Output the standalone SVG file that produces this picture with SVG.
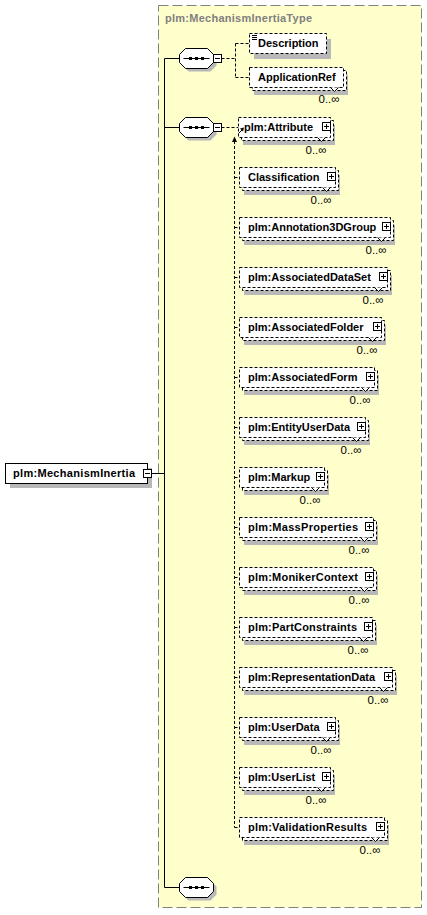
<svg xmlns="http://www.w3.org/2000/svg" xmlns:xlink="http://www.w3.org/1999/xlink" width="427" height="915" viewBox="0 0 427 915">
<style>
.t{font-family:"Liberation Sans",Arial,sans-serif;font-size:11px;font-weight:bold;fill:#000}
.ttl{font-family:"Liberation Sans",Arial,sans-serif;font-size:11px;font-weight:bold;fill:#808080}
.o{font-family:"Liberation Sans",Arial,sans-serif;font-size:11.5px;fill:#000;text-anchor:end}
.sh{fill:#b8b8b8}
.el{fill:#fff;stroke:#000;stroke-dasharray:3,2}
.box{fill:#fff;stroke:#000}
.ln{stroke:#000;fill:none}
.dl{stroke:#000;fill:none;stroke-dasharray:3,2}
.nt{fill:#fff;stroke:#000}
.type{fill:#ffffcc;stroke:#808080;stroke-dasharray:10,4}
</style>
<defs>
<g id="seq">
<polygon class="sh" points="9,3 31,3 37,9 37,17 31,23 9,23 3,17 3,9"/>
<polygon class="box" points="6,0 28,0 34,6 34,14 28,20 6,20 0,14 0,6"/>
<line class="ln" x1="4" y1="10" x2="30" y2="10"/>
<rect x="9.5" y="8.5" width="3" height="3"/>
<rect x="15.5" y="8.5" width="3" height="3"/>
<rect x="21.5" y="8.5" width="3" height="3"/>
</g>
<g id="minus">
<rect class="box" x="0" y="0" width="8" height="8"/>
<path class="ln" d="M1.5 4H6.5"/>
</g>
</defs>

<rect id="type-box" class="type" x="158.5" y="5.5" width="263" height="902"/>
<text class="ttl" x="165" y="22" textLength="147">plm:MechanismInertiaType</text>

<g id="connectors">
<path class="ln" d="M151.5 473.5H164.5M164.5 58.5V887.5M164.5 58.5H179.5M164.5 127.5H179.5M164.5 887.5H179.5"/>
<path class="dl" d="M221.5 58.5H235.5M235.5 43.5V77.5M235.5 43.5H249.5M235.5 77.5H249.5"/>
<path class="dl" d="M221.5 127.5H238.5M234.5 141V827.5M234.5 177.5H239.5M234.5 227.5H239.5M234.5 277.5H239.5M234.5 327.5H239.5M234.5 377.5H239.5M234.5 427.5H239.5M234.5 477.5H239.5M234.5 527.5H239.5M234.5 577.5H239.5M234.5 627.5H239.5M234.5 677.5H239.5M234.5 727.5H239.5M234.5 777.5H239.5M234.5 827.5H239.5"/>
<polygon points="234.5,136.5 232,142 237,142" fill="#000"/>
</g>

<g id="root">
<rect class="sh" x="10" y="468" width="142" height="20"/>
<rect class="box" x="5.5" y="463.5" width="142" height="20"/>
<text class="t" x="13" y="477" textLength="122">plm:MechanismInertia</text>
<use xlink:href="#minus" x="143.5" y="469.5"/>
</g>

<g id="seq1">
<use xlink:href="#seq" x="179.5" y="48.5"/>
<use xlink:href="#minus" x="213.5" y="54.5"/>
</g>
<g id="seq2">
<use xlink:href="#seq" x="179.5" y="117.5"/>
<use xlink:href="#minus" x="213.5" y="123.5"/>
</g>
<g id="seq3">
<use xlink:href="#seq" x="179.5" y="877.5"/>
</g>

<g id="el-description">
<rect class="sh" x="254" y="39" width="77" height="20"/>
<rect class="el" x="249.5" y="33.5" width="77" height="20"/>
<path class="ln" d="M252 35.5H257M252 37.5H257M252 39.5H257"/>
<text class="t" x="258" y="47">Description</text>
</g>

<g id="el-applicationref">
<rect class="sh" x="254" y="75" width="94" height="20"/>
<rect class="el" x="252.5" y="70.5" width="94" height="20"/>
<rect class="el" x="249.5" y="67.5" width="94" height="20"/>
<text class="t" x="258" y="81">ApplicationRef</text>
<path class="nt" d="M330.5 87.5L334.5 91.5L338.5 87.5"/>
<text class="o" x="339.5" y="103">0..∞</text>
</g>

<g id="el-attribute">
<rect class="sh" x="243" y="125" width="92" height="20"/>
<rect class="el" x="241.5" y="120.5" width="92" height="20"/>
<rect class="el" x="238.5" y="117.5" width="92" height="20"/>
<text class="t" x="244" y="131">plm:Attribute</text>
<rect class="box" x="322.5" y="122.5" width="8" height="8"/>
<path class="ln" d="M324 126.5H329M326.5 124V129"/>
<path class="nt" d="M317.5 137.5L321.5 141.5L325.5 137.5"/>
<path class="ln" d="M238.5 133.5L242.5 129.5"/>
<polygon points="244,127.5 240,128.5 243,131.5" fill="#000"/>
<text class="o" x="326.5" y="154">0..∞</text>
</g>

<g id="el-classification">
<rect class="sh" x="244" y="175" width="96" height="20"/>
<rect class="el" x="242.5" y="170.5" width="96" height="20"/>
<rect class="el" x="239.5" y="167.5" width="96" height="20"/>
<text class="t" x="248" y="181">Classification</text>
<rect class="box" x="327.5" y="172.5" width="8" height="8"/>
<path class="ln" d="M329 176.5H334M331.5 174V179"/>
<path class="nt" d="M322.5 187.5L326.5 191.5L330.5 187.5"/>
<text class="o" x="331.5" y="204">0..∞</text>
</g>

<g id="el-annotation3dgroup">
<rect class="sh" x="244" y="225" width="151" height="20"/>
<rect class="el" x="242.5" y="220.5" width="151" height="20"/>
<rect class="el" x="239.5" y="217.5" width="151" height="20"/>
<text class="t" x="248" y="231">plm:Annotation3DGroup</text>
<rect class="box" x="382.5" y="222.5" width="8" height="8"/>
<path class="ln" d="M384 226.5H389M386.5 224V229"/>
<path class="nt" d="M377.5 237.5L381.5 241.5L385.5 237.5"/>
<text class="o" x="386.5" y="254">0..∞</text>
</g>

<g id="el-associateddataset">
<rect class="sh" x="244" y="275" width="148" height="20"/>
<rect class="el" x="242.5" y="270.5" width="148" height="20"/>
<rect class="el" x="239.5" y="267.5" width="148" height="20"/>
<text class="t" x="248" y="281">plm:AssociatedDataSet</text>
<rect class="box" x="379.5" y="272.5" width="8" height="8"/>
<path class="ln" d="M381 276.5H386M383.5 274V279"/>
<path class="nt" d="M374.5 287.5L378.5 291.5L382.5 287.5"/>
<text class="o" x="383.5" y="304">0..∞</text>
</g>

<g id="el-associatedfolder">
<rect class="sh" x="244" y="325" width="142" height="20"/>
<rect class="el" x="242.5" y="320.5" width="142" height="20"/>
<rect class="el" x="239.5" y="317.5" width="142" height="20"/>
<text class="t" x="248" y="331">plm:AssociatedFolder</text>
<rect class="box" x="373.5" y="322.5" width="8" height="8"/>
<path class="ln" d="M375 326.5H380M377.5 324V329"/>
<path class="nt" d="M368.5 337.5L372.5 341.5L376.5 337.5"/>
<text class="o" x="377.5" y="354">0..∞</text>
</g>

<g id="el-associatedform">
<rect class="sh" x="244" y="375" width="135" height="20"/>
<rect class="el" x="242.5" y="370.5" width="135" height="20"/>
<rect class="el" x="239.5" y="367.5" width="135" height="20"/>
<text class="t" x="248" y="381">plm:AssociatedForm</text>
<rect class="box" x="366.5" y="372.5" width="8" height="8"/>
<path class="ln" d="M368 376.5H373M370.5 374V379"/>
<path class="nt" d="M361.5 387.5L365.5 391.5L369.5 387.5"/>
<text class="o" x="370.5" y="404">0..∞</text>
</g>

<g id="el-entityuserdata">
<rect class="sh" x="244" y="425" width="126" height="20"/>
<rect class="el" x="242.5" y="420.5" width="126" height="20"/>
<rect class="el" x="239.5" y="417.5" width="126" height="20"/>
<text class="t" x="248" y="431">plm:EntityUserData</text>
<rect class="box" x="357.5" y="422.5" width="8" height="8"/>
<path class="ln" d="M359 426.5H364M361.5 424V429"/>
<path class="nt" d="M352.5 437.5L356.5 441.5L360.5 437.5"/>
<text class="o" x="361.5" y="454">0..∞</text>
</g>

<g id="el-markup">
<rect class="sh" x="244" y="475" width="85" height="20"/>
<rect class="el" x="242.5" y="470.5" width="85" height="20"/>
<rect class="el" x="239.5" y="467.5" width="85" height="20"/>
<text class="t" x="248" y="481">plm:Markup</text>
<rect class="box" x="316.5" y="472.5" width="8" height="8"/>
<path class="ln" d="M318 476.5H323M320.5 474V479"/>
<path class="nt" d="M311.5 487.5L315.5 491.5L319.5 487.5"/>
<text class="o" x="320.5" y="504">0..∞</text>
</g>

<g id="el-massproperties">
<rect class="sh" x="244" y="525" width="134" height="20"/>
<rect class="el" x="242.5" y="520.5" width="134" height="20"/>
<rect class="el" x="239.5" y="517.5" width="134" height="20"/>
<text class="t" x="248" y="531" textLength="110">plm:MassProperties</text>
<rect class="box" x="365.5" y="522.5" width="8" height="8"/>
<path class="ln" d="M367 526.5H372M369.5 524V529"/>
<path class="nt" d="M360.5 537.5L364.5 541.5L368.5 537.5"/>
<text class="o" x="369.5" y="554">0..∞</text>
</g>

<g id="el-monikercontext">
<rect class="sh" x="244" y="575" width="134" height="20"/>
<rect class="el" x="242.5" y="570.5" width="134" height="20"/>
<rect class="el" x="239.5" y="567.5" width="134" height="20"/>
<text class="t" x="248" y="581" textLength="110">plm:MonikerContext</text>
<rect class="box" x="365.5" y="572.5" width="8" height="8"/>
<path class="ln" d="M367 576.5H372M369.5 574V579"/>
<path class="nt" d="M360.5 587.5L364.5 591.5L368.5 587.5"/>
<text class="o" x="369.5" y="604">0..∞</text>
</g>

<g id="el-partconstraints">
<rect class="sh" x="244" y="625" width="133" height="20"/>
<rect class="el" x="242.5" y="620.5" width="133" height="20"/>
<rect class="el" x="239.5" y="617.5" width="133" height="20"/>
<text class="t" x="248" y="631" textLength="109">plm:PartConstraints</text>
<rect class="box" x="364.5" y="622.5" width="8" height="8"/>
<path class="ln" d="M366 626.5H371M368.5 624V629"/>
<path class="nt" d="M359.5 637.5L363.5 641.5L367.5 637.5"/>
<text class="o" x="368.5" y="654">0..∞</text>
</g>

<g id="el-representationdata">
<rect class="sh" x="244" y="675" width="153" height="20"/>
<rect class="el" x="242.5" y="670.5" width="153" height="20"/>
<rect class="el" x="239.5" y="667.5" width="153" height="20"/>
<text class="t" x="248" y="681">plm:RepresentationData</text>
<rect class="box" x="384.5" y="672.5" width="8" height="8"/>
<path class="ln" d="M386 676.5H391M388.5 674V679"/>
<path class="nt" d="M379.5 687.5L383.5 691.5L387.5 687.5"/>
<text class="o" x="388.5" y="704">0..∞</text>
</g>

<g id="el-userdata">
<rect class="sh" x="244" y="725" width="96" height="20"/>
<rect class="el" x="242.5" y="720.5" width="96" height="20"/>
<rect class="el" x="239.5" y="717.5" width="96" height="20"/>
<text class="t" x="248" y="731">plm:UserData</text>
<rect class="box" x="327.5" y="722.5" width="8" height="8"/>
<path class="ln" d="M329 726.5H334M331.5 724V729"/>
<path class="nt" d="M322.5 737.5L326.5 741.5L330.5 737.5"/>
<text class="o" x="331.5" y="754">0..∞</text>
</g>

<g id="el-userlist">
<rect class="sh" x="244" y="775" width="91" height="20"/>
<rect class="el" x="242.5" y="770.5" width="91" height="20"/>
<rect class="el" x="239.5" y="767.5" width="91" height="20"/>
<text class="t" x="248" y="781">plm:UserList</text>
<rect class="box" x="322.5" y="772.5" width="8" height="8"/>
<path class="ln" d="M324 776.5H329M326.5 774V779"/>
<path class="nt" d="M317.5 787.5L321.5 791.5L325.5 787.5"/>
<text class="o" x="326.5" y="804">0..∞</text>
</g>

<g id="el-validationresults">
<rect class="sh" x="244" y="825" width="145" height="20"/>
<rect class="el" x="242.5" y="820.5" width="145" height="20"/>
<rect class="el" x="239.5" y="817.5" width="145" height="20"/>
<text class="t" x="248" y="831" textLength="119">plm:ValidationResults</text>
<rect class="box" x="376.5" y="822.5" width="8" height="8"/>
<path class="ln" d="M378 826.5H383M380.5 824V829"/>
<path class="nt" d="M371.5 837.5L375.5 841.5L379.5 837.5"/>
<text class="o" x="380.5" y="854">0..∞</text>
</g>
</svg>
